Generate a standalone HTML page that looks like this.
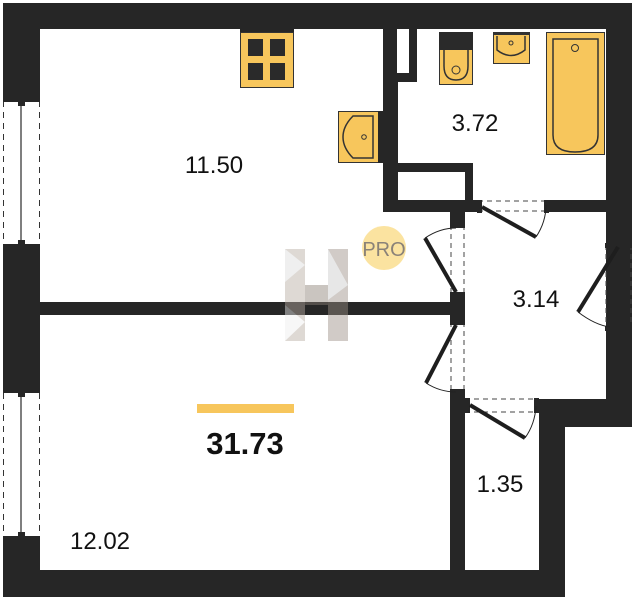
<!DOCTYPE html>
<html><head><style>
html,body{margin:0;padding:0;background:#fff;}
svg{display:block;}
text{font-family:"Liberation Sans",sans-serif;}
</style></head><body>
<svg width="634" height="600" viewBox="0 0 634 600" xmlns="http://www.w3.org/2000/svg">
<rect width="634" height="600" fill="#fff"/>
<g fill="#262626">
<rect x="3" y="3" width="629" height="26"/>
<rect x="3" y="3" width="37" height="594"/>
<rect x="3" y="570" width="562" height="27"/>
<rect x="539" y="399" width="26" height="198"/>
<rect x="539" y="399" width="93" height="28"/>
<rect x="606" y="3" width="26" height="424"/>
<rect x="40" y="302" width="412" height="13"/>
<rect x="383" y="29" width="15" height="183"/>
<rect x="383" y="200" width="95" height="12"/>
<rect x="548" y="200" width="58" height="12"/>
<rect x="398" y="163" width="75" height="9"/>
<rect x="465" y="163" width="8" height="37"/>
<rect x="397" y="29" width="20" height="53"/>
<rect x="450" y="200" width="15" height="25"/>
<rect x="450" y="295" width="15" height="27"/>
<rect x="450" y="392" width="15" height="205"/>
</g>
<g>
<rect x="3" y="98" width="37" height="149" fill="#fff"/>
<rect x="3" y="390" width="37" height="150" fill="#fff"/>
<g stroke="#333" stroke-dasharray="6,5" stroke-width="1">
<line x1="3.5" y1="101" x2="3.5" y2="244"/><line x1="39.5" y1="101" x2="39.5" y2="244"/>
<line x1="3.5" y1="393" x2="3.5" y2="537"/><line x1="39.5" y1="393" x2="39.5" y2="537"/>
</g>
<g stroke="#555" stroke-width="1.5"><line x1="21" y1="101" x2="21" y2="244"/><line x1="21" y1="393" x2="21" y2="537"/></g>
<g fill="#262626">
<rect x="3" y="97" width="37" height="5"/><rect x="3" y="244" width="37" height="5"/>
<rect x="3" y="388" width="37" height="5"/><rect x="3" y="536" width="37" height="5"/>
<rect x="18" y="101" width="7" height="5"/><rect x="18" y="240" width="7" height="5"/>
<rect x="18" y="392" width="7" height="5"/><rect x="18" y="532" width="7" height="5"/>
</g>
</g>
<rect x="397" y="29" width="12" height="44" fill="#fff"/>
<g stroke="#444" stroke-dasharray="5,4" stroke-width="1" fill="none">
<line x1="478" y1="201" x2="548" y2="201"/><line x1="478" y1="211" x2="548" y2="211"/>
<line x1="451" y1="225" x2="451" y2="295"/><line x1="464" y1="225" x2="464" y2="295"/>
<line x1="451" y1="322" x2="451" y2="392"/><line x1="464" y1="322" x2="464" y2="392"/>
<line x1="465" y1="399" x2="539" y2="399"/><line x1="465" y1="412" x2="539" y2="412"/>
<line x1="606" y1="245" x2="606" y2="328"/><line x1="631" y1="245" x2="631" y2="328"/>
</g>
<g fill="#262626">
<rect x="477" y="200" width="5" height="13"/><rect x="544" y="200" width="5" height="13"/>
<rect x="450" y="223" width="15" height="5"/><rect x="450" y="292" width="15" height="5"/>
<rect x="450" y="320" width="15" height="5"/><rect x="450" y="389" width="15" height="5"/>
<rect x="465" y="398" width="5" height="15"/><rect x="534" y="398" width="5" height="15"/>
<rect x="605" y="243" width="27" height="5"/><rect x="605" y="326" width="27" height="5"/>
</g>
<g stroke="#1e1e1e" stroke-width="4">
<line x1="482" y1="207" x2="536" y2="237"/>
<line x1="456" y1="292" x2="425" y2="238"/>
<line x1="456" y1="325" x2="426" y2="383"/>
<line x1="470" y1="405" x2="525" y2="438"/>
<line x1="618" y1="247" x2="578" y2="312"/>
</g>
<g stroke="#222" stroke-width="1" fill="none">
<path d="M536 237 Q546 222 546 205"/>
<path d="M425 238 Q440 228 456 228"/>
<path d="M426 383 Q440 392 456 392"/>
<path d="M525 438 Q535 424 536 406"/>
<path d="M578 312 Q595 325 610 327"/>
</g>
<rect x="240" y="29" width="54" height="4" fill="#262626"/>
<rect x="240.5" y="32.5" width="53" height="55" fill="#f7c65c" stroke="#333"/>
<g fill="#2a2a2a">
<rect x="248" y="39" width="15" height="17"/><rect x="270" y="39" width="15" height="17"/>
<rect x="248" y="63" width="15" height="17"/><rect x="270" y="63" width="15" height="17"/>
</g>
<rect x="338.5" y="111.5" width="41" height="51" fill="#f7c65c" stroke="#333"/>
<rect x="378" y="111" width="5" height="52" fill="#262626"/>
<path d="M373 116 H353 Q343 126 343 137 Q343 148 353 158 H373 Z" fill="none" stroke="#333" stroke-width="1.5"/>
<circle cx="364" cy="137" r="2.3" fill="none" stroke="#333"/>
<rect x="439.5" y="33.5" width="33" height="51" fill="#f7c65c" stroke="#333"/>
<rect x="439" y="32" width="34" height="18" fill="#2a2a2a"/>
<path d="M444 50 V66 Q444 80 456 80 Q468 80 468 66 V50" fill="none" stroke="#333" stroke-width="1.5"/>
<circle cx="456" cy="70" r="4" fill="none" stroke="#333"/>
<rect x="493.5" y="33.5" width="36" height="30" fill="#f7c65c" stroke="#333"/>
<rect x="493" y="32" width="37" height="3" fill="#333"/>
<path d="M497 36 V50 Q511 61 525 50 V36" fill="none" stroke="#333" stroke-width="1.5"/>
<circle cx="511" cy="43" r="2" fill="none" stroke="#333"/>
<rect x="546.5" y="32.5" width="58" height="122" fill="#f7c65c" stroke="#333"/>
<path d="M553 39 H598 V135 Q598 152 575 152 Q553 152 553 135 Z" fill="none" stroke="#333" stroke-width="1.5"/>
<circle cx="575" cy="48" r="3.5" fill="none" stroke="#333"/>
<g opacity="0.45">
<polygon points="285,249 305,249 305,341 285,341" fill="#b8aca2"/>
<polygon points="328,249 348,249 348,341 328,341" fill="#9a8e84"/>
<polygon points="305,285 328,285 328,305 305,305" fill="#8b7f76"/>
<polygon points="285,249 305,265 285,282" fill="#ddd"/>
<polygon points="328,249 348,285 328,300" fill="#ccc"/>
<polygon points="285,305 305,322 285,341" fill="#eee"/>
</g>
<circle cx="384" cy="248" r="22" fill="#fbe3a0"/>
<text x="384" y="256" font-size="20" fill="#8a8278" text-anchor="middle">PRO</text>
<g font-size="24" fill="#111" text-anchor="middle">
<text x="214" y="173">11.50</text>
<text x="475" y="131">3.72</text>
<text x="536" y="307">3.14</text>
<text x="500" y="492">1.35</text>
<text x="100" y="549">12.02</text>
</g>
<rect x="197" y="404" width="97" height="9" fill="#f7c65c"/>
<text x="245" y="454" font-size="31" font-weight="bold" fill="#111" text-anchor="middle">31.73</text>
</svg>
</body></html>
